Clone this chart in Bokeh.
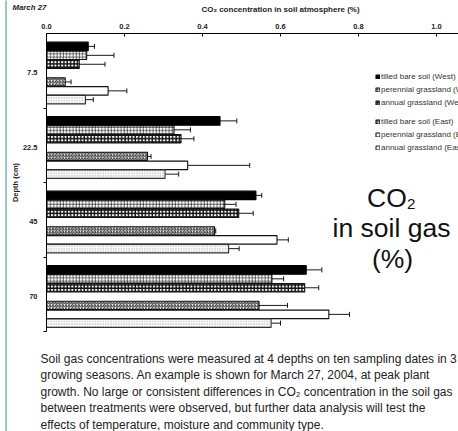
import math
from bokeh.plotting import figure
from bokeh.models import (Range1d, FixedTicker, Whisker, TeeHead, ColumnDataSource,
                          Label, Legend, LegendItem)
from bokeh.embed import file_html
from bokeh.resources import INLINE

# ---------------- data ----------------
depths = ["7.5", "22.5", "45", "70"]
x_ticks = [0.0, 0.2, 0.4, 0.6, 0.8, 1.0]
x_tick_labels = ["0.0", "0.2", "0.4", "0.6", "0.8", "1.0"]

series_names = ["tilled bare soil (West)", "perennial grassland (West)", "annual grassland (West)",
                "tilled bare soil (East)", "perennial grassland (East)", "annual grassland (East)"]

tilled_w = [0.107, 0.445, 0.537, 0.666]
tilled_w_err = [0.016, 0.043, 0.015, 0.040]
perennial_w = [0.103, 0.327, 0.457, 0.578]
perennial_w_err = [0.070, 0.042, 0.029, 0.030]
annual_w = [0.084, 0.345, 0.493, 0.662]
annual_w_err = [0.066, 0.033, 0.037, 0.036]
tilled_e = [0.048, 0.259, 0.431, 0.545]
tilled_e_err = [0.015, 0.009, 0.003, 0.073]
perennial_e = [0.158, 0.362, 0.591, 0.724]
perennial_e_err = [0.048, 0.159, 0.029, 0.053]
annual_e = [0.100, 0.304, 0.467, 0.576]
annual_e_err = [0.020, 0.035, 0.027, 0.024]

caption_lines = [
    "Soil gas concentrations were measured at 4 depths on ten sampling dates in 3",
    "growing seasons. An example is shown for March 27, 2004, at peak plant",
    "growth. No large or consistent differences in CO\u2082 concentration in the soil gas",
    "between treatments were observed, but further data analysis will test the",
    "effects of temperature, moisture and community type.",
]

# ---------------- layout ----------------
W, H = 458, 431
LEFT, TOP, BOTTOM = 46, 33, 100
FONT = "Liberation Sans"

slot_offsets = [0.173, 0.293, 0.413, 0.650, 0.770, 0.888]
label_offset = 0.53
bar_h = 0.114

p = figure(width=W, height=H, output_backend="svg", toolbar_location=None,
           x_axis_location="above",
           x_range=Range1d(0, (W - LEFT) / 390.0), y_range=Range1d(4, 0),
           min_border_left=LEFT, min_border_right=0, min_border_top=TOP,
           min_border_bottom=BOTTOM)
p.outline_line_color = None
p.xgrid.visible = False
p.ygrid.visible = False
p.background_fill_color = "white"
p.border_fill_color = "white"

styles = [
    dict(fill_color="black", line_color="black"),
    dict(fill_color="white", line_color="#111", hatch_pattern="+", hatch_color="#222",
         hatch_scale=3.2, hatch_weight=0.7),
    dict(fill_color="white", line_color="#111", hatch_pattern="+", hatch_color="#111",
         hatch_scale=3.4, hatch_weight=1.4),
    dict(fill_color="white", line_color="#111", hatch_pattern="/", hatch_color="#222",
         hatch_scale=3.2, hatch_weight=0.9),
    dict(fill_color="white", line_color="#111"),
    dict(fill_color="white", line_color="#333", hatch_pattern=".", hatch_color="#999",
         hatch_scale=2.6, hatch_weight=0.6),
]

values = [tilled_w, perennial_w, annual_w, tilled_e, perennial_e, annual_e]
errors = [tilled_w_err, perennial_w_err, annual_w_err, tilled_e_err, perennial_e_err, annual_e_err]

renderers = []
for k, (vals, errs, st) in enumerate(zip(values, errors, styles)):
    ys = [g + slot_offsets[k] for g in range(len(depths))]
    src = ColumnDataSource(dict(y=ys, v=vals,
                                lo=[v - e for v, e in zip(vals, errs)],
                                hi=[v + e for v, e in zip(vals, errs)]))
    r = p.hbar(y="y", right="v", left=0, height=bar_h, source=src, line_width=1.1, **st)
    renderers.append(r)
    wk = Whisker(source=src, base="y", lower="lo", upper="hi", dimension="width",
                 line_color="#1a1a1a", line_width=1,
                 upper_head=TeeHead(size=5, line_color="#1a1a1a", line_width=1),
                 lower_head=TeeHead(size=5, line_color="#1a1a1a", line_width=1))
    p.add_layout(wk)

# ---------------- axes ----------------
xa = p.xaxis[0]
xa.ticker = FixedTicker(ticks=x_ticks)
xa.major_label_overrides = {t: s for t, s in zip(x_ticks, x_tick_labels)}
xa.major_tick_in = 3
xa.major_tick_out = 0
xa.minor_tick_in = 0
xa.minor_tick_out = 0
xa.major_label_standoff = 5
xa.major_label_text_font = FONT
xa.major_label_text_font_style = "bold"
xa.major_label_text_font_size = "7.5px"
xa.major_label_text_color = "#222"
xa.axis_line_color = "black"
xa.major_tick_line_color = "black"

ya = p.yaxis[0]
ytick_pos = [g + label_offset for g in range(len(depths))]
ya.ticker = FixedTicker(ticks=ytick_pos, minor_ticks=[1, 2, 3, 4])
ya.major_label_overrides = {t: d for t, d in zip(ytick_pos, depths)}
ya.major_tick_in = 0
ya.major_tick_out = 0
ya.minor_tick_in = 0
ya.minor_tick_out = 3
ya.minor_tick_line_color = "black"
ya.major_label_standoff = 6
ya.major_label_text_font = FONT
ya.major_label_text_font_style = "bold"
ya.major_label_text_font_size = "7.5px"
ya.major_label_text_color = "#222"
ya.axis_line_color = "black"
ya.axis_label = "Depth (cm)"
ya.axis_label_standoff = 0
ya.axis_label_text_font = FONT
ya.axis_label_text_font_style = "bold"
ya.axis_label_text_font_size = "7.5px"
ya.axis_label_text_color = "#222"

# ---------------- legends ----------------
def make_legend(items, loc):
    return Legend(items=items, location=loc, orientation="vertical",
                  glyph_width=5, glyph_height=5, label_height=5, spacing=4,
                  label_standoff=1, padding=0, margin=0,
                  border_line_color=None, background_fill_alpha=0,
                  label_text_font=FONT, label_text_font_size="8px",
                  label_text_color="#333")

west = [LegendItem(label=series_names[i], renderers=[renderers[i]]) for i in range(3)]
east = [LegendItem(label=series_names[i], renderers=[renderers[i]]) for i in range(3, 6)]
p.add_layout(make_legend(west, (329, 224)))
p.add_layout(make_legend(east, (329, 179)))

# ---------------- texts ----------------
def label(text, cx, cy, size, style="normal", align="left", baseline="middle",
          color="#222", side=None, **kw):
    lb = Label(x=cx, y=cy, x_units="canvas", y_units="canvas", text=text,
               text_font=FONT, text_font_size=size, text_font_style=style,
               text_align=align, text_baseline=baseline, text_color=color, **kw)
    if side is None:
        p.add_layout(lb)
    else:
        p.add_layout(lb, side)

label("March 27", 12, 6.5, "7.8px", style="bold italic", side="above")
label("CO\u2082 concentration in soil atmosphere (%)", 280, 8.5, "8px", style="bold",
      align="center", side="above")

for i, line in enumerate(caption_lines):
    label(line, 40, 358 + i * 16.6, "12px", color="#222", side="below")

# big annotation inside the plot area
def flabel(text, cx, cy, size, align="left"):
    # frame-relative screen coordinates (y up from the frame bottom)
    p.add_layout(Label(x=cx - LEFT, y=(H - BOTTOM) - cy, x_units="screen", y_units="screen",
                       text=text, text_font=FONT, text_font_size=size, text_align=align,
                       text_baseline="alphabetic", text_color="#111"))

flabel("CO", 366.5, 197, "26.5px")
flabel("2", 406.5, 203, "15px")
flabel("in soil gas", 391, 227, "26.5px", align="center")
flabel("(%)", 392, 258, "26.5px", align="center")

# teal border line at the left edge
label("\u200a", 5, 0, "1px", baseline="top", side="left",
      background_fill_color="#3a9fa0", background_fill_alpha=1,
      padding=(0, 1, 431, 1))

open("out.html", "w").write(file_html(p, INLINE))
